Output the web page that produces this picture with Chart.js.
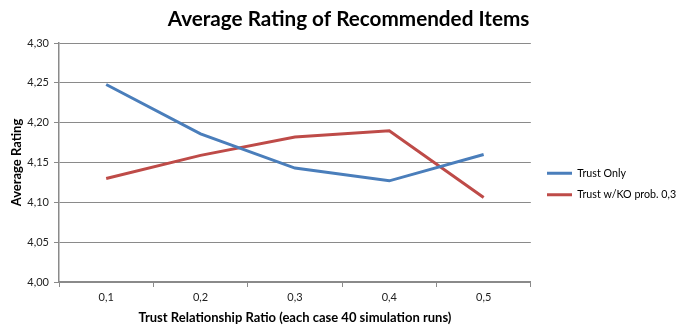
<!DOCTYPE html>
<html>
<head>
<meta charset="utf-8">
<script src="https://cdn.jsdelivr.net/npm/chart.js@4"></script>
<style>
html,body{margin:0;padding:0;background:#fff;}
#wrap{width:681px;height:328px;position:relative;}
</style>
</head>
<body>
<div id="wrap"><canvas id="c" width="681" height="328"></canvas></div>
<script>
const categories = ['0,1', '0,2', '0,3', '0,4', '0,5'];
const trustOnly = [4.248, 4.186, 4.143, 4.127, 4.160];
const trustKO = [4.130, 4.159, 4.182, 4.190, 4.106];
const seriesNames = ['Trust Only', 'Trust w/KO prob. 0,3'];
const yMin = 4.00, yMax = 4.30, yStep = 0.05;

const FONT = 'Lato, "Open Sans", sans-serif';
const AXIS = '#8a8a8a';

// small layout nudges (legend position, title centring)
const nudge = {
  id: 'nudge',
  afterLayout(chart) {
    const lg = chart.legend;
    if (lg) {
      const dx = 536 - lg.left;
      lg.left += dx; lg.right += dx;
      lg.top += 20; lg.bottom += 20;
    }
    const t = chart.titleBlock;
    if (t) { t.left += 8; t.right += 8; }
  }
};

new Chart(document.getElementById('c'), {
  type: 'line',
  data: {
    labels: categories,
    datasets: [
      { label: seriesNames[0], data: trustOnly, borderColor: '#4a7ebb', backgroundColor: '#4a7ebb', borderWidth: 3, pointRadius: 0, tension: 0 },
      { label: seriesNames[1], data: trustKO, borderColor: '#be4b48', backgroundColor: '#be4b48', borderWidth: 3, pointRadius: 0, tension: 0 }
    ]
  },
  plugins: [nudge],
  options: {
    responsive: false,
    animation: false,
    devicePixelRatio: 1,
    layout: { padding: { left: 0, right: 0, top: 0, bottom: 0 } },
    plugins: {
      title: {
        display: true,
        text: 'Average Rating of Recommended Items',
        color: '#000',
        font: { family: FONT, size: 20.7, weight: 'bold', lineHeight: 1.2 },
        padding: { top: 6.5, bottom: 11.7 }
      },
      legend: {
        position: 'right',
        maxWidth: 151,
        labels: {
          usePointStyle: true,
          pointStyle: 'line',
          pointStyleWidth: 25,
          boxHeight: 11,
          padding: 11,
          color: '#000',
          font: { family: FONT, size: 10.7 }
        }
      },
      tooltip: { enabled: false }
    },
    scales: {
      x: {
        offset: true,
        grid: { display: true, offset: true, drawOnChartArea: false, drawTicks: true, tickLength: 5, color: AXIS, lineWidth: 1 },
        border: { display: true, color: AXIS, width: 1.5 },
        ticks: { color: '#222', font: { family: FONT, size: 11 }, padding: 4 },
        title: { display: true, text: 'Trust Relationship Ratio (each case 40 simulation runs)', color: '#000', font: { family: FONT, size: 13, weight: 'bold' }, padding: { top: 2, bottom: 2 } },
        afterFit: s => { s.height = 46; }
      },
      y: {
        min: yMin, max: yMax,
        grid: { color: AXIS, lineWidth: 1, drawTicks: true, tickLength: 5 },
        border: { display: true, color: AXIS, width: 1.5 },
        ticks: {
          stepSize: yStep, color: '#222', font: { family: FONT, size: 11 }, padding: 5,
          callback: v => v.toFixed(2).replace('.', ',')
        },
        title: { display: true, text: 'Average Rating', color: '#000', font: { family: FONT, size: 13, weight: 'bold' }, padding: { top: 9, bottom: 4 } },
        afterFit: s => { s.width = 59; }
      }
    }
  }
});
</script>
</body>
</html>
